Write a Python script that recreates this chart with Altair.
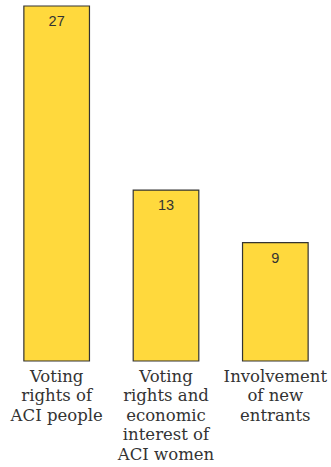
import altair as alt
import pandas as pd

categories = ["Voting|rights of|ACI people", "Voting|rights and|economic|interest of|ACI women", "Involvement|of new|entrants"]
values = [27, 13, 9]

df = pd.DataFrame({"cat": categories, "val": values})

x = alt.X("cat:N", sort=None, title=None,
          scale=alt.Scale(paddingInner=0.4, paddingOuter=0.2),
          axis=alt.Axis(labelAngle=0, domain=False, ticks=False, labelPadding=7,
                        labelExpr="split(datum.value, '|')", labelFont="DejaVu Serif",
                        labelFontSize=16.5, labelLineHeight=19.5, labelColor="#333333",
                        labelBaseline="top", labelOverlap=False, labelBound=False,
                        labelLimit=200))
y = alt.Y("val:Q", title=None, scale=alt.Scale(domain=[0, 27], nice=False), axis=None)

bars = alt.Chart(df).mark_bar(color="#FFD93D", stroke="#333333", strokeWidth=1.2).encode(x=x, y=y)
text = alt.Chart(df).mark_text(baseline="top", dy=9, font="Liberation Sans", fontSize=14.5,
                               color="#333333").encode(x=x, y=y, text="val:Q")

chart = (bars + text).properties(width=328, height=355,
                                 padding={"left": 2, "top": 6, "right": 1, "bottom": 106},
                                 autosize=alt.AutoSizeParams(type="none")).configure_view(stroke=None)
chart.save("out.html", embed_options={"renderer": "svg", "actions": False})
